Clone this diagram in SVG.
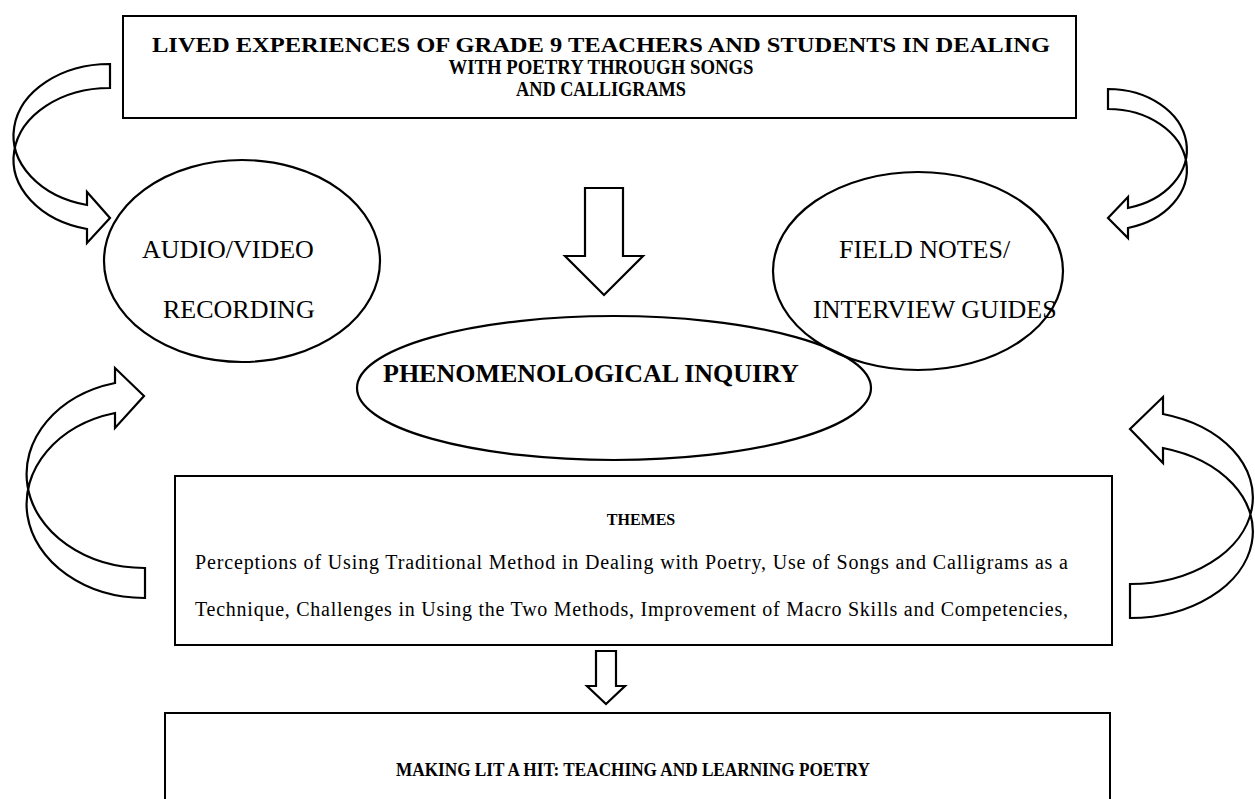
<svg xmlns="http://www.w3.org/2000/svg" width="1255" height="799" viewBox="0 0 1255 799">
<style>
.box{fill:none;stroke:#000;stroke-width:2}
.ell{fill:none;stroke:#000;stroke-width:2.2}
.arr{fill:none;stroke:#000;stroke-width:2.2;stroke-linejoin:miter}
.tb{font-family:"Liberation Serif","Times New Roman",serif;font-weight:bold;fill:#000}
.tr{font-family:"Liberation Serif","Times New Roman",serif;fill:#000}
</style>
<rect width="1255" height="799" fill="#fff"/>
<g id="title">
<rect class="box" x="123" y="16" width="953" height="102"/>
<text class="tb" font-size="21" x="601" y="52" text-anchor="middle" textLength="898" lengthAdjust="spacingAndGlyphs">LIVED EXPERIENCES OF GRADE 9 TEACHERS AND STUDENTS IN DEALING</text>
<text class="tb" font-size="21" x="601" y="74" text-anchor="middle" textLength="305" lengthAdjust="spacingAndGlyphs">WITH POETRY THROUGH SONGS</text>
<text class="tb" font-size="21" x="601" y="96" text-anchor="middle" textLength="170" lengthAdjust="spacingAndGlyphs">AND CALLIGRAMS</text>
</g>
<g id="audio">
<ellipse class="ell" cx="242" cy="261" rx="138" ry="101"/>
<text class="tr" font-size="26" x="142" y="258">AUDIO/VIDEO</text>
<text class="tr" font-size="26" x="163" y="318">RECORDING</text>
</g>
<g id="fieldnotes">
<ellipse class="ell" cx="918" cy="271" rx="145" ry="99"/>
<text class="tr" font-size="26" x="839" y="258">FIELD NOTES/</text>
<text class="tr" font-size="26" x="813" y="318">INTERVIEW GUIDES</text>
</g>
<g id="inquiry">
<ellipse class="ell" cx="614" cy="388" rx="257" ry="72"/>
<text class="tb" font-size="26" x="383" y="382">PHENOMENOLOGICAL INQUIRY</text>
</g>
<g id="themes">
<rect class="box" x="175" y="476" width="937" height="169"/>
<text class="tb" font-size="16" x="641" y="525" text-anchor="middle">THEMES</text>
<text class="tr" font-size="20" x="195" y="569" textLength="873" lengthAdjust="spacing">Perceptions of Using Traditional Method in Dealing with Poetry, Use of Songs and Calligrams as a</text>
<text class="tr" font-size="20" x="195" y="616" textLength="873" lengthAdjust="spacing">Technique, Challenges in Using the Two Methods, Improvement of Macro Skills and Competencies,</text>
</g>
<g id="outcome">
<rect class="box" x="165" y="713" width="945" height="120"/>
<text class="tb" font-size="18" x="633" y="776" text-anchor="middle" textLength="474" lengthAdjust="spacingAndGlyphs">MAKING LIT A HIT: TEACHING AND LEARNING POETRY</text>
</g>
<g id="connectors">
<path class="arr" d="M110,64 A96,71.5 0 0 0 87,205 L87,192 L110,218 L87,243 L87,229 A96,71.5 0 0 1 110,88 Z"/>
<path class="arr" d="M1108,89 A79,60.5 0 0 1 1128,208 L1128,197 L1108,218 L1128,238 L1128,228 A79,60.5 0 0 0 1108,109 Z"/>
<path class="arr" d="M145,598 A118,94 0 0 1 115,413 L115,428 L144,396 L115,368 L115,383 A118,94 0 0 0 145,568 Z"/>
<path class="arr" d="M1130,618 A123,86.6 0 0 0 1163,448 L1163,463 L1130,429 L1163,397 L1163,414 A123,86.6 0 0 1 1130,584 Z"/>
<path class="arr" d="M585,188 L623,188 L623,256 L643,256 L604,295 L565,256 L585,256 Z"/>
<path class="arr" d="M596,651 L616,651 L616,686 L625,686 L606,704 L587,686 L596,686 Z"/>
</g>
</svg>
